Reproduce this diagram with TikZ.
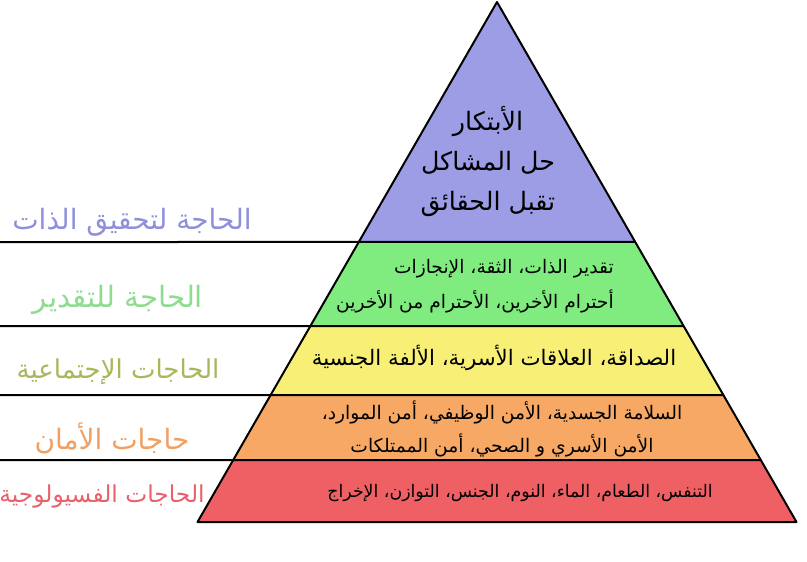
\documentclass[tikz,border=0pt]{standalone}
\usepackage{fontspec}
\usetikzlibrary{calc}
\newfontfamily\arabicfont[Script=Arabic]{DejaVu Sans}
\TeXXeTstate=1
\newcommand{\artext}[1]{{\arabicfont\beginR #1\endR}}
\newcommand{\fsz}[2]{\fontsize{#1}{#2}\selectfont}
\definecolor{selfcol}{HTML}{9D9DE6}
\definecolor{esteemcol}{HTML}{80EC80}
\definecolor{socialcol}{HTML}{F7EF76}
\definecolor{safetycol}{HTML}{F6A864}
\definecolor{bodycol}{HTML}{EE6064}
\definecolor{selflab}{HTML}{9090DA}
\definecolor{esteemlab}{HTML}{8EDC8E}
\definecolor{sociallab}{HTML}{A9B65C}
\definecolor{safetylab}{HTML}{F0A062}
\definecolor{bodylab}{HTML}{E8606C}
\begin{document}
\begin{tikzpicture}[x=0.75pt,y=-0.75pt]
	\tikzstyle{layer text} = [align=center, text=black, inner sep=0pt]
	\tikzstyle{need label} = [inner sep=0pt]
	\tikzstyle{edge line} = [line width=1.5pt, line join=round]
	\useasboundingbox (0,0) rectangle (807,561);
	\coordinate (top) at (497,2);
	\coordinate (bl) at (197.5,522);
	\coordinate (br) at (796.5,522);
	\coordinate (l1) at ($(top)!0.4615!(bl)$);
	\coordinate (r1) at ($(top)!0.4615!(br)$);
	\coordinate (l2) at ($(top)!0.6231!(bl)$);
	\coordinate (r2) at ($(top)!0.6231!(br)$);
	\coordinate (l3) at ($(top)!0.7558!(bl)$);
	\coordinate (r3) at ($(top)!0.7558!(br)$);
	\coordinate (l4) at ($(top)!0.8808!(bl)$);
	\coordinate (r4) at ($(top)!0.8808!(br)$);
	\coordinate (e1) at (0,242);
	\coordinate (e2) at (0,326);
	\coordinate (e3) at (0,395);
	\coordinate (e4) at (0,460);
	\fill[selfcol] (top) -- (l1) -- (r1) -- cycle;
	\fill[esteemcol] (l1) -- (l2) -- (r2) -- (r1) -- cycle;
	\fill[socialcol] (l2) -- (l3) -- (r3) -- (r2) -- cycle;
	\fill[safetycol] (l3) -- (l4) -- (r4) -- (r3) -- cycle;
	\fill[bodycol] (l4) -- (bl) -- (br) -- (r4) -- cycle;
	\draw[edge line] (top) -- (bl) -- (br) -- cycle;
	\draw[edge line] (e1) -- (r1);
	\draw[edge line] (e2) -- (r2);
	\draw[edge line] (e3) -- (r3);
	\draw[edge line] (e4) -- (r4);
	\node[layer text, font=\fsz{19}{30}] (t1) at (488,162) {\artext{الأبتكار}\\\artext{حل المشاكل}\\\artext{تقبل الحقائق}};
	\node[layer text, font=\fsz{14}{26}, align=right, anchor=east] (t2) at (614,286) {\artext{تقدير الذات، الثقة، الإنجازات}\\\artext{أحترام الأخرين، الأحترام من الأخرين}};
	\node[layer text, font=\fsz{16}{20}] (t3) at (494,358) {\artext{الصداقة، العلاقات الأسرية، الألفة الجنسية}};
	\node[layer text, font=\fsz{14}{25}] (t4) at (502,429) {\artext{السلامة الجسدية، الأمن الوظيفي، أمن الموارد،}\\\artext{الأمن الأسري و الصحي، أمن الممتلكات}};
	\node[layer text, font=\fsz{13}{20}] (t5) at (520,493) {\artext{التنفس، الطعام، الماء، النوم، الجنس، التوازن، الإخراج}};
	\node[need label, font=\fsz{21}{24}, text=selflab] (n1) at (132,222) {\artext{الحاجة لتحقيق الذات}};
	\node[need label, font=\fsz{22}{24}, text=esteemlab] (n2) at (118,300) {\artext{الحاجة للتقدير}};
	\node[need label, font=\fsz{19.5}{24}, text=sociallab] (n3) at (118,372) {\artext{الحاجات الإجتماعية}};
	\node[need label, font=\fsz{21}{24}, text=safetylab] (n4) at (112,438) {\artext{حاجات الأمان}};
	\node[need label, font=\fsz{17.5}{24}, text=bodylab] (n5) at (102,496) {\artext{الحاجات الفسيولوجية}};
\end{tikzpicture}
\end{document}
